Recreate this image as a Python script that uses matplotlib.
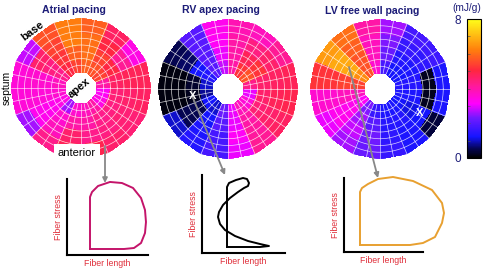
import numpy as np
import matplotlib
matplotlib.use("Agg")
import matplotlib.pyplot as plt
from matplotlib.colors import LinearSegmentedColormap

plt.rcParams['font.family'] = ['Liberation Sans', 'DejaVu Sans']

W, H = 488, 269

titles = ["Atrial pacing", "RV apex pacing", "LV free wall pacing"]

# work density (mJ/g); rows = rings (inner -> outer), cols = 16 sectors CCW from east
atrial = [
    [4.0, 5.4, 5.6, 5.8, 5.4, 5.0, 4.3, 3.8, 3.6, 3.4, 2.6, 3.6, 3.8, 4.0, 3.4, 3.2],
    [4.7, 5.0, 5.4, 6.0, 5.8, 5.2, 4.4, 3.6, 3.5, 3.3, 3.6, 4.0, 4.0, 4.3, 4.4, 4.5],
    [4.8, 4.2, 5.0, 6.0, 6.2, 5.4, 4.6, 3.6, 3.5, 3.3, 3.8, 4.6, 4.3, 4.4, 4.5, 4.6],
    [4.8, 3.4, 4.7, 5.8, 6.2, 5.6, 2.8, 3.5, 3.5, 2.6, 4.3, 4.8, 4.9, 4.6, 4.5, 4.7],
]
rv_apex = [
    [4.3, 5.6, 5.2, 4.0, 2.8, 2.0, 1.4, 1.0, 0.8, 1.2, 1.0, 2.2, 3.0, 3.8, 3.5, 3.0],
    [4.6, 5.2, 4.8, 4.0, 3.0, 2.0, 1.2, 0.3, 0.2, 0.5, 1.2, 2.0, 3.0, 4.0, 4.5, 4.6],
    [4.7, 4.6, 4.4, 4.0, 3.2, 2.0, 0.6, 0.1, 0.1, 0.5, 1.3, 1.8, 3.2, 4.1, 4.6, 4.8],
    [4.8, 4.2, 3.8, 3.9, 3.3, 2.0, 0.5, 0.1, 0.1, 1.0, 1.4, 1.8, 3.0, 4.2, 4.7, 4.9],
]
lv_free = [
    [1.4, 1.2, 1.2, 1.8, 3.6, 5.6, 6.4, 5.4, 3.8, 3.2, 2.4, 1.6, 1.3, 1.3, 1.2, 1.3],
    [1.4, 1.3, 1.4, 2.2, 3.8, 5.6, 6.8, 5.4, 3.8, 3.3, 2.6, 2.0, 1.4, 1.4, 1.1, 1.3],
    [0.2, 1.5, 1.6, 2.4, 3.8, 5.8, 6.8, 5.2, 3.6, 3.3, 2.8, 2.3, 1.5, 1.3, 1.2, 0.2],
    [1.3, 1.7, 1.8, 2.6, 4.0, 6.0, 6.6, 5.2, 3.6, 3.0, 2.6, 2.2, 1.6, 1.3, 0.4, 1.3],
]
maps = [atrial, rv_apex, lv_free]

# PV-type loops (normalized fiber length, fiber stress)
loop1_len = [0.284, 0.284, 0.309, 0.383, 0.531, 0.679, 0.815, 0.914, 0.963, 0.975, 0.963, 0.914, 0.827, 0.704, 0.284]
loop1_str = [0.079, 0.763, 0.829, 0.908, 0.961, 0.947, 0.882, 0.750, 0.592, 0.434, 0.289, 0.158, 0.092, 0.079, 0.079]

loop2_px = [(227, 247), (227, 187), (229, 183), (236, 180), (243, 178), (247, 179), (249, 183),
            (248, 186), (244, 188), (238, 192), (230, 198), (223, 205), (219, 212), (218, 217),
            (220, 224), (225, 230), (235, 236), (248, 241), (260, 244), (269, 246), (260, 247), (227, 247)]
loop2_len = [(p[0] - 202) / 83 for p in loop2_px]
loop2_str = [(253 - p[1]) / 78 for p in loop2_px]

loop3_px = [(360, 245), (360, 192), (362, 188), (368, 184), (378, 179), (393, 177), (413, 181),
            (432, 190), (442, 203), (444, 213), (442, 223), (435, 237), (423, 243), (410, 245), (360, 245)]
loop3_len = [(p[0] - 344) / 79 for p in loop3_px]
loop3_str = [(252 - p[1]) / 74 for p in loop3_px]

loops = [(loop1_len, loop1_str, '#c4146a'), (loop2_len, loop2_str, '#000000'),
         (loop3_len, loop3_str, '#e8a030')]

cmap = LinearSegmentedColormap.from_list("work", [
    (0.0, (0, 0, 0)), (0.07, (0.02, 0.02, 0.35)), (0.15, (0.08, 0.08, 1.0)),
    (0.29, (0.45, 0.1, 1.0)), (0.39, (1.0, 0.0, 1.0)), (0.52, (1.0, 0.1, 0.6)),
    (0.63, (1.0, 0.15, 0.25)), (0.78, (1.0, 0.5, 0.05)), (1.0, (1.0, 1.0, 0.1))])

navy = '#1c1c78'

fig = plt.figure(figsize=(W / 100, H / 100), dpi=100)


def box(x0, y0, x1, y1):
    return [x0 / W, 1 - y1 / H, (x1 - x0) / W, (y1 - y0) / H]


centers = [(81, 88), (228, 89), (380, 89)]
R_OUT, R_IN = 70, 16
for (cx, cy), data in zip(centers, maps):
    ax = fig.add_axes(box(cx - R_OUT, cy - R_OUT, cx + R_OUT, cy + R_OUT), projection='polar')
    arr = np.array(data)
    nr, ns = arr.shape
    th = np.linspace(0, 2 * np.pi, ns + 1)
    rr = np.linspace(R_IN, R_OUT, nr + 1)
    ax.pcolormesh(th, rr, arr, cmap=cmap, vmin=0, vmax=8, shading='flat')
    for t in np.linspace(0, 2 * np.pi, 2 * ns + 1)[:-1]:
        ax.plot([t, t], [R_IN, R_OUT], color='white', lw=0.5, alpha=0.8)
    tt = np.linspace(0, 2 * np.pi, 200)
    for r in np.linspace(R_IN, R_OUT, 2 * nr + 1)[1:-1]:
        ax.plot(tt, np.full_like(tt, r), color='white', lw=0.5, alpha=0.8)
    ax.set_ylim(0, R_OUT)
    ax.set_axis_off()

# colorbar
cax = fig.add_axes(box(467, 19, 481, 158))
sm = matplotlib.cm.ScalarMappable(cmap=cmap, norm=matplotlib.colors.Normalize(0, 8))
cb = fig.colorbar(sm, cax=cax)
cb.outline.set_linewidth(0.8)
cax.yaxis.set_ticks_position('left')
cax.set_yticks(range(9))
cax.set_yticklabels(['0', '', '', '', '', '', '', '', '8'])
cax.tick_params(axis='y', length=2, width=0.5, direction='in', labelsize=8.5,
                labelcolor=navy, pad=4, color='#555555')

# loop axes
loop_boxes = [(67, 179, 148, 255), (202, 175, 285, 253), (344, 178, 423, 252)]
for (x0, y0, x1, y1), (lx, ly, col) in zip(loop_boxes, loops):
    la = fig.add_axes(box(x0, y0, x1, y1))
    la.plot(lx, ly, color=col, lw=1.4, clip_on=False, solid_joinstyle='round')
    la.set_xlim(0, 1)
    la.set_ylim(0, 1)
    la.set_xticks([])
    la.set_yticks([])
    la.spines[['top', 'right']].set_visible(False)
    la.spines[['left', 'bottom']].set_linewidth(1.5)
    la.patch.set_alpha(0)
    la.set_xlabel('Fiber length', color='#e0303c', fontsize=6.3, labelpad=3)
    la.set_ylabel('Fiber stress', color='#e0303c', fontsize=6.3, labelpad=3)

# overlay for annotations
ov = fig.add_axes([0, 0, 1, 1], zorder=10)
ov.set_xlim(0, W)
ov.set_ylim(H, 0)
ov.set_axis_off()
ov.patch.set_alpha(0)

title_pos = [(74, 10), (221, 10), (372, 11)]
for (tx, ty), t in zip(title_pos, titles):
    ov.text(tx, ty, t, ha='center', va='center', fontsize=7.6, fontweight='bold', color=navy)
ov.text(467, 8, '(mJ/g)', ha='center', va='center', fontsize=7.3, color=navy)

ov.text(33, 31, 'base', ha='center', va='center', rotation=37, fontsize=8, fontweight='bold')
ov.text(79, 88, 'apex', ha='center', va='center', rotation=40, fontsize=8, fontweight='bold')
ov.text(7, 88, 'septum', ha='center', va='center', rotation=90, fontsize=7.5)
ov.text(77, 153, 'anterior', ha='center', va='center', fontsize=8,
        bbox=dict(boxstyle='square,pad=0.35', fc='white', ec='none'))

arrows = [((105, 146), (105, 183)), ((193, 98), (225, 175)), ((349, 67), (378, 178))]
for (sx, sy), (ex, ey) in arrows:
    ov.annotate('', xy=(ex, ey), xytext=(sx, sy),
                arrowprops=dict(arrowstyle='-|>', color='#888888', lw=1.3, mutation_scale=7,
                                shrinkA=0, shrinkB=0))

ov.text(193, 96, 'X', ha='center', va='center', color='white', fontsize=8, fontweight='bold')
ov.text(420, 113, 'X', ha='center', va='center', color='white', fontsize=8, fontweight='bold')

fig.savefig('out.png', dpi=100)
